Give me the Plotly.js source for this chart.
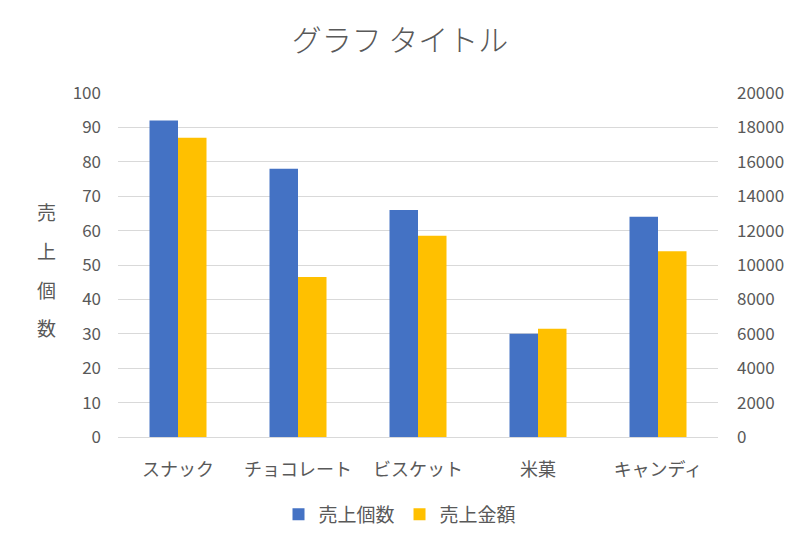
<!DOCTYPE html>
<html>
<head>
<meta charset="utf-8">
<script src="https://cdn.plot.ly/plotly-3.0.1.min.js"></script>
<style>html,body{margin:0;padding:0;background:#fff;}#chart{width:800px;height:545px;}</style>
</head>
<body>
<div id="chart"></div>
<script>
var categories = ["スナック", "チョコレート", "ビスケット", "米菓", "キャンディ"];
var salesCount = [92, 78, 66, 30, 64];
var salesAmount = [17400, 9300, 11700, 6300, 10800];
var seriesNames = ["売上個数", "売上金額"];
var yTitleChars = ["売", "上", "個", "数"];

var FONT = "'Noto Sans CJK JP', 'Noto Sans', sans-serif";
var GRAY = "#595959";

var traces = [
  {type: "bar", x: categories, y: salesCount, name: seriesNames[0],
   marker: {color: "#4472C4"}, offsetgroup: "a", yaxis: "y"},
  {type: "bar", x: categories, y: salesAmount, name: seriesNames[1],
   marker: {color: "#FFC000"}, offsetgroup: "b", yaxis: "y2"}
];

var ann = yTitleChars.map(function (c, i) {
  var py = [211, 250, 289, 327][i];
  return {text: c, xref: "paper", yref: "paper", x: (46 - 118) / 600, y: (437 - py) / 344,
    showarrow: false, xanchor: "center", yanchor: "middle",
    font: {family: FONT, size: 19, color: GRAY}};
});

var layout = {
  width: 800, height: 545,
  margin: {l: 118, r: 82, t: 93, b: 108},
  paper_bgcolor: "#fff", plot_bgcolor: "#fff",
  font: {family: FONT, color: GRAY, size: 17},
  title: {text: "グラフ タイトル", x: 0.5, xanchor: "center", y: 0.926, yanchor: "middle",
    font: {family: FONT, size: 30, color: GRAY, weight: 300}},
  barmode: "group", bargap: 0.525, bargroupgap: 0,
  xaxis: {showline: true, linecolor: "#d9d9d9", linewidth: 1, ticks: "",
    tickfont: {family: FONT, size: 18, color: GRAY}, ticklabelstandoff: 16, fixedrange: true},
  yaxis: {range: [0, 100], dtick: 10, showgrid: true, gridcolor: "#d9d9d9", zeroline: false,
    ticks: "", tickfont: {family: FONT, size: 17, color: GRAY}, ticklabelstandoff: 16},
  yaxis2: {range: [0, 20000], dtick: 2000, tickformat: "d", overlaying: "y", side: "right", showgrid: false,
    zeroline: false, ticks: "", tickfont: {family: FONT, size: 17, color: GRAY}, ticklabelstandoff: 18},
  legend: {orientation: "h", x: 0.47, xanchor: "center", y: -0.225, yanchor: "middle",
    font: {family: FONT, size: 19, color: GRAY}, itemwidth: 30},
  annotations: ann
};

Plotly.newPlot("chart", traces, layout, {displayModeBar: false, staticPlot: true});
</script>
</body>
</html>
